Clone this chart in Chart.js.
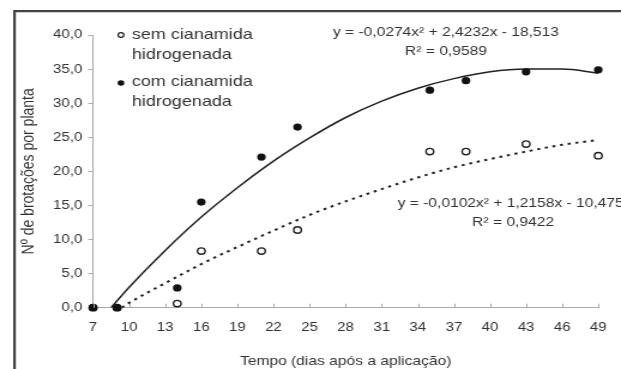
<!DOCTYPE html>
<html>
<head>
<meta charset="utf-8">
<script src="https://cdn.jsdelivr.net/npm/chart.js@4"></script>
<style>
html, body { margin: 0; padding: 0; background: #fff; overflow: hidden; }
/* the source picture is stretched horizontally, so the chart is too */
#wrap { width: 518px; height: 369px; transform: scaleX(1.1988); transform-origin: 0 0; }
</style>
</head>
<body>
<div id="wrap"><canvas id="myChart" width="518" height="369"></canvas></div>
<script>
// observed values
const days = [7, 9, 14, 16, 21, 24, 35, 38, 43, 49];
const comValues = [0, 0, 2.9, 15.5, 22.1, 26.5, 31.9, 33.3, 34.6, 34.9];
const semValues = [0, 0, 0.6, 8.3, 8.3, 11.4, 22.9, 22.9, 24.0, 22.3];

// trend lines
const comTrendDays = [8.5, 10, 13, 16, 19, 22, 25, 28, 31, 34, 37, 40, 43, 46, 49];
const comTrend = [0, 3.0, 8.4, 13.3, 17.6, 21.5, 24.9, 27.9, 30.3, 32.2, 33.6, 34.6, 35.0, 35.0, 34.4];
const semTrendDays = [9.4, 10, 13, 16, 19, 22, 25, 28, 31, 34, 37, 40, 43, 46, 49];
const semTrend = [0, 0.7, 3.6, 6.4, 8.9, 11.3, 13.6, 15.6, 17.4, 19.1, 20.6, 21.8, 22.9, 23.9, 24.6];

const seriesNames = [['sem cianamida', 'hidrogenada'], ['com cianamida', 'hidrogenada']];
const equations = [
    ['y = -0,0274x² + 2,4232x - 18,513', 'R² = 0,9589'],
    ['y = -0,0102x² + 1,2158x - 10,475', 'R² = 0,9422']
];

const FONT = "'Liberation Sans', Arial, sans-serif";
const TEXT = '#333';

const toPoints = (xs, ys) => xs.map((x, i) => ({ x: x, y: ys[i] }));

const extras = {
    id: 'extras',
    beforeDraw(chart) {
        const c = chart.ctx;
        c.save();
        c.fillStyle = '#fff';
        c.fillRect(0, 0, chart.width, chart.height);
        // frame (left and top edges)
        c.strokeStyle = '#444';
        c.lineWidth = 2.2;
        c.beginPath();
        c.moveTo(12.1, 369);
        c.lineTo(12.1, 11.2);
        c.lineTo(chart.width, 11.2);
        c.stroke();
        c.restore();
    },
    afterDraw(chart) {
        const c = chart.ctx;
        const xs = chart.scales.x;
        const area = chart.chartArea;
        c.save();
        // small x ticks pointing up into the plot
        c.strokeStyle = '#aaa';
        c.lineWidth = 1;
        xs.ticks.forEach(t => {
            const px = Math.round(xs.getPixelForValue(t.value)) + 0.5;
            c.beginPath();
            c.moveTo(px, area.bottom);
            c.lineTo(px, area.bottom - 4);
            c.stroke();
        });

        // legend
        c.fillStyle = TEXT;
        c.font = '15px ' + FONT;
        c.textBaseline = 'middle';
        c.textAlign = 'left';
        c.fillText(seriesNames[0][0], 110, 35);
        c.fillText(seriesNames[0][1], 110, 55);
        c.fillText(seriesNames[1][0], 110, 82);
        c.fillText(seriesNames[1][1], 110, 102);
        c.beginPath();
        c.arc(100.9, 35, 2.4, 0, Math.PI * 2);
        c.strokeStyle = '#222';
        c.lineWidth = 1.2;
        c.stroke();
        c.beginPath();
        c.arc(100.9, 83, 2.8, 0, Math.PI * 2);
        c.fillStyle = '#111';
        c.fill();

        // trend equations
        c.fillStyle = TEXT;
        c.font = '13px ' + FONT;
        c.textAlign = 'center';
        c.fillText(equations[0][0], 372, 32);
        c.fillText(equations[0][1], 372, 51);
        c.fillText(equations[1][0], 426, 203);
        c.fillText(equations[1][1], 428, 222);
        c.restore();
    }
};

const ctx = document.getElementById('myChart').getContext('2d');
const myChart = new Chart(ctx, {
    type: 'scatter',
    data: {
        datasets: [
            {
                label: 'com cianamida hidrogenada',
                data: toPoints(days, comValues),
                clip: false,
                pointRadius: 3.6,
                pointBackgroundColor: '#111',
                pointBorderColor: '#111',
                pointBorderWidth: 0
            },
            {
                label: 'sem cianamida hidrogenada',
                data: toPoints(days, semValues),
                clip: false,
                pointRadius: 3.2,
                pointBackgroundColor: '#fff',
                pointBorderColor: '#222',
                pointBorderWidth: 1.4
            },
            {
                type: 'line',
                label: 'tendência com',
                data: toPoints(comTrendDays, comTrend),
                borderColor: '#222',
                borderWidth: 1.5,
                pointRadius: 0,
                cubicInterpolationMode: 'monotone',
                fill: false
            },
            {
                type: 'line',
                label: 'tendência sem',
                data: toPoints(semTrendDays, semTrend),
                borderColor: '#222',
                borderWidth: 2,
                borderDash: [2.5, 4],
                pointRadius: 0,
                cubicInterpolationMode: 'monotone',
                fill: false
            }
        ]
    },
    options: {
        responsive: false,
        animation: false,
        events: [],
        layout: { padding: { left: 15, right: 7.6, top: 35, bottom: 0 } },
        plugins: { legend: { display: false }, tooltip: { enabled: false } },
        scales: {
            x: {
                type: 'linear',
                min: 7,
                max: 49,
                afterFit(scale) { scale.height = 61.3; },
                ticks: {
                    stepSize: 3,
                    color: TEXT,
                    font: { family: FONT, size: 12.5 },
                    padding: 12,
                    maxRotation: 0
                },
                grid: { drawOnChartArea: false, drawTicks: false },
                border: { display: true, color: '#aaa', width: 1 },
                title: {
                    display: true,
                    text: 'Tempo (dias após a aplicação)',
                    color: TEXT,
                    font: { family: FONT, size: 13 },
                    padding: { top: 0, bottom: 0 }
                }
            },
            y: {
                min: 0,
                max: 40,
                afterFit(scale) { scale.width = 62.6; },
                ticks: {
                    stepSize: 5,
                    color: TEXT,
                    font: { family: FONT, size: 12.5 },
                    padding: 5,
                    callback: v => v.toFixed(1).replace('.', ',')
                },
                grid: { drawOnChartArea: false, drawTicks: true, tickLength: 4, color: '#aaa' },
                border: { display: true, color: '#aaa', width: 1 },
                title: {
                    display: true,
                    text: 'Nº de brotações por planta',
                    color: TEXT,
                    font: { family: FONT, size: 14 },
                    padding: { top: 1, bottom: 0 }
                }
            }
        }
    },
    plugins: [extras]
});
</script>
</body>
</html>
